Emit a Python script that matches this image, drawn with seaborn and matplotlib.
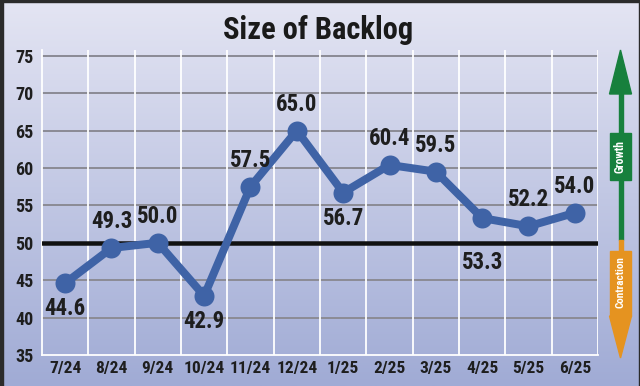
import numpy as np
import pandas as pd
import matplotlib
matplotlib.use("Agg")
import matplotlib.pyplot as plt
import seaborn as sns
from matplotlib.patches import Rectangle, Polygon

months = ["7/24", "8/24", "9/24", "10/24", "11/24", "12/24",
          "1/25", "2/25", "3/25", "4/25", "5/25", "6/25"]
values = [44.6, 49.3, 50.0, 42.9, 57.5, 65.0, 56.7, 60.4, 59.5, 53.3, 52.2, 54.0]
label_above = [False, True, True, False, True, True, False, True, True, False, True, True]
y_ticks = [35, 40, 45, 50, 55, 60, 65, 70, 75]
title = "Size of Backlog"

sns.set_theme(style="white")
FONT = ["Roboto Condensed", "IBM Plex Sans Condensed", "DejaVu Sans"]
plt.rcParams["font.family"] = FONT
plt.rcParams["font.weight"] = "bold"

W, H = 640, 386
PT = 72 / 100  # points per pixel
fig = plt.figure(figsize=(W / 100, H / 100), dpi=100)

# background gradient
bg = fig.add_axes([0, 0, 1, 1], zorder=-10)
top = np.array([228, 229, 243]) / 255
bot = np.array([160, 171, 213]) / 255
t = np.linspace(0, 1, 256)[:, None]
grad = (top[None, :] * (1 - t) + bot[None, :] * t)[:, None, :]
bg.imshow(grad, aspect="auto", extent=[0, W, H, 0])
bg.set_xlim(0, W)
bg.set_ylim(H, 0)
bg.axis("off")
bg.add_patch(Rectangle((0, 0), 3, H, color="#2b2b2b"))
bg.add_patch(Rectangle((0, 0), W, 1.5, color="#2b2b2b"))
bg.add_patch(Rectangle((W - 1.5, 0), 1.5, H, color="#2b2b2b"))

# main axes
x0, x1 = 42, 598
ytop, ybot = 50, 355
px_per_unit = (355 - 55.7) / 40
ymax = 75 + (55.7 - 50) / px_per_unit
ax = fig.add_axes([x0 / W, (H - ybot) / H, (x1 - x0) / W, (ybot - ytop) / H])
ax.patch.set_alpha(0)

df = pd.DataFrame({"month": months, "value": values})
sns.lineplot(data=df, x="month", y="value", sort=False, ax=ax,
             color="#3f63a6", linewidth=8 * PT, marker="o", markersize=20 * PT,
             markeredgewidth=0, zorder=5)

ax.set_xlim(-0.5, len(months) - 0.5)
ax.set_ylim(35, ymax)
ax.set_yticks(y_ticks)
ax.set_yticklabels([str(v) for v in y_ticks], fontsize=13, fontweight="bold", color="#1e1e1e")
ax.set_xticks(range(len(months)))
ax.set_xticklabels(months, fontsize=12.5, fontweight="bold", color="#1e1e1e")
ax.tick_params(axis="x", length=0, pad=4)
ax.tick_params(axis="y", length=0, pad=6)
ax.set_xlabel("")
ax.set_ylabel("")

for v in y_ticks[1:]:
    if v == 50:
        ax.axhline(v, color="#111111", linewidth=4.5 * PT, zorder=3)
    else:
        ax.axhline(v, color="#8c8c96", linewidth=2 * PT, zorder=1)
for i in range(1, len(months) + 1):
    ax.axvline(i - 0.5, color="white", linewidth=1.8 * PT, zorder=2)

for s in ["top", "right"]:
    ax.spines[s].set_visible(False)
for s in ["left", "bottom"]:
    ax.spines[s].set_color("white")
    ax.spines[s].set_linewidth(1.8 * PT)

for i, (v, up) in enumerate(zip(values, label_above)):
    if up:
        off = 15
    else:
        off = -14
        # keep a label that sits just above the 50 line clear of it
        if v > 50 and (v - 50) * px_per_unit < 30:
            off = -((v - 50) * px_per_unit + 8)
    ax.annotate(f"{v:.1f}", (i, v), xytext=(0, off),
                textcoords="offset pixels", ha="center",
                va="bottom" if up else "top", fontsize=16.5,
                fontweight="bold", color="#1e1e1e", zorder=6)

fig.text(318 / W, 1 - 30 / H, title, ha="center", va="center",
         fontsize=22, fontweight="bold", color="#1a1a1a")

# growth / contraction arrow
ov = fig.add_axes([0, 0, 1, 1], zorder=20)
ov.set_xlim(0, W)
ov.set_ylim(H, 0)
ov.axis("off")
green = "#17803d"
orange = "#e59320"
cx = 620.5
ov.add_patch(Rectangle((cx - 2, 92), 4, 148, color=green))
ov.add_patch(Rectangle((cx - 2, 240), 4, 80, color=orange))
ov.add_patch(Polygon([[cx, 50], [cx - 11, 94], [cx + 11, 94]], closed=True, color=green))
ov.add_patch(Polygon([[cx, 358], [cx - 11, 316], [cx + 11, 316]], closed=True, color=orange))
ov.add_patch(Rectangle((cx - 10.5, 133), 21, 47, color=green))
ov.add_patch(Rectangle((cx - 10.5, 251), 21, 65, color=orange))
ov.text(cx, 156.5, "Growth", rotation=90, ha="center", va="center",
        fontsize=8.5, fontweight="bold", color="white")
ov.text(cx, 282, "Contraction", rotation=90, ha="center", va="center",
        fontsize=8, fontweight="bold", color="white")

fig.savefig("out.png", dpi=100)
